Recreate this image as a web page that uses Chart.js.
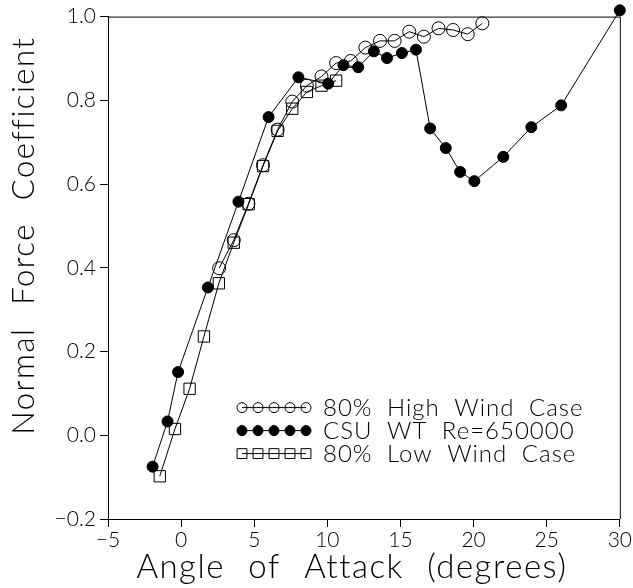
<!DOCTYPE html>
<html><head><meta charset="utf-8">
<script src="https://cdn.jsdelivr.net/npm/chart.js@4.4.1/dist/chart.umd.min.js"></script>
<style>html,body{margin:0;padding:0;background:#fff}</style>
</head><body>
<canvas id="c" width="633" height="588"></canvas>
<script>
// ---- data ----
const seriesLabels = ['80% High Wind Case', 'CSU WT Re=650000', '80% Low Wind Case'];

const highWindAoA = [2.6, 3.6, 4.6, 5.6, 6.6, 7.6, 8.6, 9.6, 10.6, 11.6, 12.6, 13.6, 14.6, 15.6, 16.6, 17.6, 18.6, 19.6, 20.6];
const highWindCn  = [0.399, 0.466, 0.553, 0.645, 0.730, 0.797, 0.835, 0.857, 0.889, 0.894, 0.926, 0.942, 0.942, 0.964, 0.952, 0.972, 0.968, 0.958, 0.984];

const csuAoA = [-1.95, -0.93, -0.21, 1.83, 3.92, 5.98, 8.02, 10.06, 11.1, 12.11, 13.18, 14.08, 15.1, 16.06, 17.03, 18.1, 19.08, 20.05, 22.03, 23.95, 25.99, 30.0];
const csuCn  = [-0.075, 0.033, 0.151, 0.353, 0.558, 0.760, 0.855, 0.840, 0.884, 0.879, 0.917, 0.901, 0.913, 0.921, 0.733, 0.686, 0.629, 0.607, 0.665, 0.736, 0.788, 1.015];

const lowWindAoA = [-1.46, -0.42, 0.58, 1.56, 2.58, 3.6, 4.62, 5.6, 6.6, 7.6, 8.6, 9.6, 10.6];
const lowWindCn  = [-0.098, 0.015, 0.111, 0.236, 0.363, 0.46, 0.552, 0.643, 0.727, 0.780, 0.820, 0.835, 0.847];

const xTickValues = [-5, 0, 5, 10, 15, 20, 25, 30];
const yTickValues = [-0.2, 0.0, 0.2, 0.4, 0.6, 0.8, 1.0];
const xTitle = 'Angle of Attack (degrees)';
const yTitle = 'Normal Force Coefficient';

// ---- build ----
const pts = (xs, ys) => xs.map((x, i) => ({x: x, y: ys[i]}));
const FONT = 'Lato';
const minus = s => s.replace('-', '\u2212');

const styles = [
  {pointStyle: 'circle', radius: 6.5, fill: 'rgba(0,0,0,0)'},
  {pointStyle: 'circle', radius: 5.5, fill: '#000'},
  {pointStyle: 'rect', radius: 8, fill: 'rgba(0,0,0,0)'}
];
const seriesData = [pts(highWindAoA, highWindCn), pts(csuAoA, csuCn), pts(lowWindAoA, lowWindCn)];

const datasets = seriesData.map((d, i) => ({
  label: seriesLabels[i],
  data: d,
  showLine: true,
  borderColor: '#000',
  borderWidth: 1,
  tension: 0,
  pointStyle: styles[i].pointStyle,
  pointRadius: styles[i].radius,
  pointHoverRadius: styles[i].radius,
  pointBackgroundColor: styles[i].fill,
  pointBorderColor: '#000',
  pointBorderWidth: 1,
  clip: false
}));

function markerPath(ctx, style, x, y, r) {
  ctx.beginPath();
  if (style === 'rect') {
    const s = r * Math.SQRT1_2;
    ctx.rect(x - s, y - s, 2 * s, 2 * s);
  } else {
    ctx.arc(x, y, r, 0, Math.PI * 2);
  }
}

const framePlugin = {
  id: 'frame',
  afterDatasetsDraw(chart) {
    const {ctx, chartArea: a} = chart;
    ctx.save();
    ctx.strokeStyle = '#000';
    ctx.lineWidth = 1;
    ctx.beginPath();
    ctx.moveTo(a.left, a.top + 0.5);
    ctx.lineTo(a.right + 0.5, a.top + 0.5);
    ctx.lineTo(a.right + 0.5, a.bottom);
    ctx.stroke();
    ctx.restore();
  }
};

const titlesPlugin = {
  id: 'axisTitles',
  afterDraw(chart) {
    const {ctx, chartArea: a} = chart;
    ctx.save();
    ctx.fillStyle = '#000';
    ctx.textAlign = 'center';
    ctx.textBaseline = 'alphabetic';
    // x title
    ctx.font = '300 33px ' + FONT;
    ctx.letterSpacing = '1.5px';
    ctx.wordSpacing = '13px';
    ctx.fillText(xTitle, (a.left + a.right) / 2 - 12, a.bottom + 59);
    // y title
    ctx.font = '300 31px ' + FONT;
    ctx.letterSpacing = '1.5px';
    ctx.wordSpacing = '13px';
    ctx.translate(34, a.top + 219);
    ctx.rotate(-Math.PI / 2);
    ctx.fillText(yTitle, 0, 0);
    ctx.restore();
  }
};

const legendPlugin = {
  id: 'customLegend',
  afterDraw(chart) {
    const {ctx, chartArea: a} = chart;
    const x0 = a.left + 134, step = 16, rowH = 23;
    const y0 = a.top + 391;
    ctx.save();
    chart.data.datasets.forEach((ds, i) => {
      const y = y0 + i * rowH;
      ctx.strokeStyle = '#000';
      ctx.lineWidth = 1;
      ctx.beginPath();
      ctx.moveTo(x0, y); ctx.lineTo(x0 + 4 * step, y);
      ctx.stroke();
      for (let k = 0; k < 5; k++) {
        const r = ds.pointStyle === 'rect' ? 7 : 5;
        markerPath(ctx, ds.pointStyle, x0 + k * step, y, r);
        if (ds.pointBackgroundColor === '#000') { ctx.fillStyle = '#000'; ctx.fill(); }
        ctx.stroke();
      }
      ctx.fillStyle = '#000';
      ctx.font = '300 24px ' + FONT;
      ctx.letterSpacing = '1px';
      ctx.wordSpacing = '7px';
      ctx.textBaseline = 'middle';
      ctx.textAlign = 'left';
      ctx.fillText(ds.label, x0 + 4 * step + 17, y + 1);
    });
    ctx.restore();
  }
};

new Chart(document.getElementById('c'), {
  type: 'scatter',
  data: {datasets: datasets},
  plugins: [framePlugin, titlesPlugin, legendPlugin],
  options: {
    responsive: false,
    animation: false,
    events: [],
    layout: {padding: {top: 15, right: 11, left: 0, bottom: 0}},
    plugins: {legend: {display: false}, tooltip: {enabled: false}},
    scales: {
      x: {
        type: 'linear',
        min: xTickValues[0], max: xTickValues[xTickValues.length - 1],
        afterBuildTicks: s => { s.ticks = xTickValues.map(v => ({value: v})); },
        afterFit: s => { s.height = 69; },
        border: {display: true, color: '#000', width: 1},
        grid: {display: true, drawOnChartArea: false, drawTicks: true, tickLength: 8, color: '#000'},
        ticks: {color: '#000', padding: 1, font: {family: FONT, size: 21, weight: '300'},
                maxRotation: 0, callback: v => minus(String(v))},
        title: {display: false, text: xTitle}
      },
      y: {
        type: 'linear',
        min: yTickValues[0], max: yTickValues[yTickValues.length - 1],
        afterBuildTicks: s => { s.ticks = yTickValues.map(v => ({value: v})); },
        afterFit: s => { s.width = 108; },
        border: {display: true, color: '#000', width: 1},
        grid: {display: true, drawOnChartArea: false, drawTicks: true, tickLength: 8, color: '#000'},
        ticks: {color: '#000', padding: 4, font: {family: FONT, size: 21, weight: '300'},
                callback: v => minus(Number(v).toFixed(1))},
        title: {display: false, text: yTitle}
      }
    }
  }
});
</script>
</body></html>
